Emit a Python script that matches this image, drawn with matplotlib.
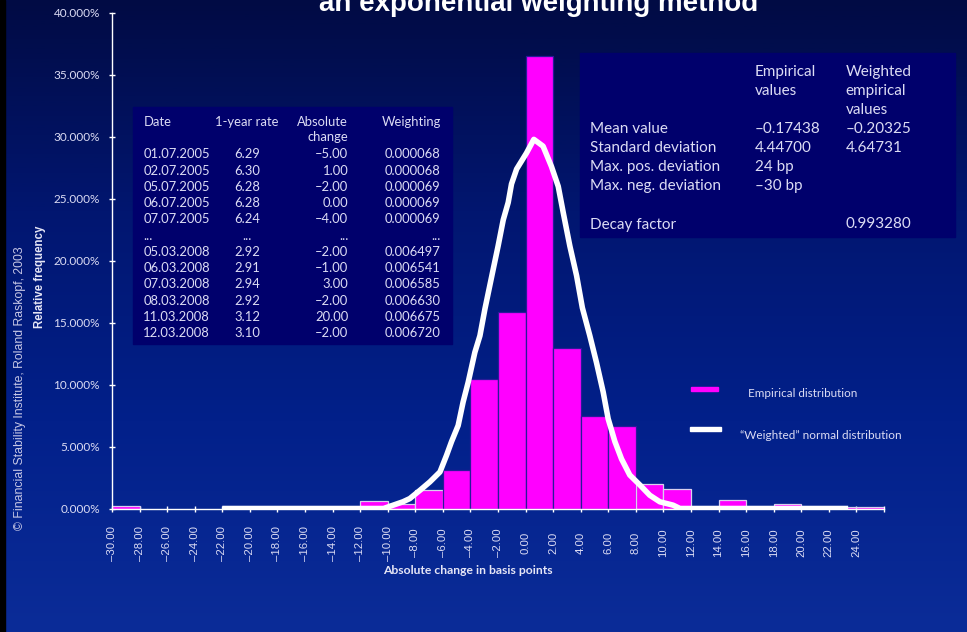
import numpy as np
import matplotlib
matplotlib.use("Agg")
import matplotlib.pyplot as plt
from matplotlib.patches import Rectangle
from matplotlib.colors import LinearSegmentedColormap
from matplotlib.ticker import PercentFormatter

# ---- data -------------------------------------------------------------
bin_left = [-30, -28, -26, -24, -22, -20, -18, -16, -14, -12, -10, -8, -6, -4,
            -2, 0, 2, 4, 6, 8, 10, 12, 14, 16, 18, 20, 22, 24]
rel_freq = [0.18, 0, 0, 0, 0, 0, 0, 0, 0, 0.59, 0.35, 1.47, 3.14, 10.47,
            15.90, 36.50, 12.95, 7.50, 6.65, 2.00, 1.57, 0, 0.70, 0, 0.35, 0, 0.15, 0.15]

curve_x = [-22.0, -10.3, -9.6, -8.9, -8.4, -7.66, -6.94, -6.21, -5.73, -5.37, -4.89,
           -4.53, -4.16, -3.68, -3.31, -2.95, -2.35, -1.99, -1.62, -1.26, -1.02,
           -0.65, 0.07, 0.60, 1.27, 1.88, 2.37, 2.73, 3.21, 3.70, 4.12, 4.66, 5.14,
           5.63, 5.99, 6.48, 6.96, 7.56, 8.29, 9.01, 9.74, 10.7, 11.2, 23.4]
curve_y = [0.0, 0.0, 0.27, 0.54, 0.80, 1.47, 2.15, 2.95, 4.30, 5.40, 6.70,
           8.60, 10.2, 12.6, 13.95, 16.1, 19.3, 21.2, 23.3, 24.7, 26.2,
           27.4, 28.7, 29.8, 29.25, 27.6, 26.0, 23.9, 21.2, 18.8, 16.2, 13.95, 11.8,
           9.4, 7.25, 5.4, 4.0, 2.7, 1.9, 1.07, 0.54, 0.27, 0.0, 0.0]

x_ticks = list(range(-30, 27, 2))
y_ticks = [0, 5, 10, 15, 20, 25, 30, 35, 40]

tbl_header = ["Date", "1-year rate", "Absolute\nchange", "Weighting"]
tbl_dates = ["01.07.2005", "02.07.2005", "05.07.2005", "06.07.2005", "07.07.2005", "...",
             "05.03.2008", "06.03.2008", "07.03.2008", "08.03.2008", "11.03.2008", "12.03.2008"]
tbl_rates = ["6.29", "6.30", "6.28", "6.28", "6.24", "...",
             "2.92", "2.91", "2.94", "2.92", "3.12", "3.10"]
tbl_changes = ["–5.00", "1.00", "–2.00", "0.00", "–4.00", "...",
               "–2.00", "–1.00", "3.00", "–2.00", "20.00", "–2.00"]
tbl_weights = ["0.000068", "0.000068", "0.000069", "0.000069", "0.000069", "...",
               "0.006497", "0.006541", "0.006585", "0.006630", "0.006675", "0.006720"]

stat_labels = ["Mean value", "Standard deviation", "Max. pos. deviation",
               "Max. neg. deviation", "Decay factor"]
stat_empirical = ["–0.17438", "4.44700", "24 bp", "–30 bp", ""]
stat_weighted = ["–0.20325", "4.64731", "", "", "0.993280"]

# ---- figure -----------------------------------------------------------
W, H = 967, 632
fig = plt.figure(figsize=(W / 100, H / 100), dpi=100)


def fx(px):
    return px / W


def fy(py):
    return 1 - py / H


# vertical gradient background
bg = fig.add_axes([0, 0, 1, 1], zorder=-10)
bg_cmap = LinearSegmentedColormap.from_list(
    "slide", ["#010b44", "#011670", "#02208a", "#0b2c98"])
bg.imshow(np.linspace(0, 1, 256)[:, None], cmap=bg_cmap, aspect="auto",
          extent=[0, 1, 0, 1], origin="upper")
bg.axis("off")
fig.add_artist(Rectangle((0, 0), fx(5), 1, transform=fig.transFigure,
                         color="black", zorder=-5))

LAV = "#dcdcf4"

# ---- main chart -------------------------------------------------------
ax = fig.add_axes([fx(112), fy(508.5), fx(884) - fx(112), (508.5 - 13) / H])
ax.patch.set_visible(False)

bl = np.array(bin_left, dtype=float)
rf = np.array(rel_freq, dtype=float)
keep = rf > 0
edges = ["#d8d0ee" if h < 2.5 else "#2a1a9a" for h in rf[keep]]
ax.bar(bl[keep], rf[keep], width=2, align="edge", color="#ff00ff",
       edgecolor=edges, linewidth=0.9, zorder=2)
ax.plot(curve_x, curve_y, color="white", lw=4.0, solid_joinstyle="round",
        solid_capstyle="butt", zorder=4)

ax.set_xlim(-30, 26)
ax.set_ylim(0, 40)
for s in ("top", "right"):
    ax.spines[s].set_visible(False)
for s in ("left", "bottom"):
    ax.spines[s].set_color("white")
    ax.spines[s].set_linewidth(1.0)

ax.set_xticks(x_ticks)
ax.set_xticklabels([f"{v:.2f}".replace("-", "–") if v <= 24 else "" for v in x_ticks],
                   rotation=90, va="center", ha="center",
                   fontsize=8.2, family="Liberation Sans", color=LAV)
ax.set_yticks(y_ticks)
ax.yaxis.set_major_formatter(PercentFormatter(xmax=100, decimals=3))
for lab in ax.get_yticklabels():
    lab.set_family("Lato")
    lab.set_fontsize(8.5)
    lab.set_color(LAV)
ax.tick_params(axis="x", direction="inout", length=4.5, width=1, colors="white",
               labelcolor=LAV, pad=22.6)
ax.tick_params(axis="y", direction="inout", length=4.5, width=1, colors="white",
               labelcolor=LAV, pad=6.4)

# axis titles and credit line
fig.text(fx(467.5), fy(570), "Absolute change in basis points", ha="center",
         va="center", fontsize=8.7, fontweight="bold", family="Lato", color="#e6e6f6")
fig.text(fx(40), fy(277), "Relative frequency", rotation=90, ha="center",
         va="center", fontsize=8.3, fontweight="bold", family="Liberation Sans",
         color="#e6e6f6")
fig.text(fx(20), fy(388), "© Financial Stability Institute, Roland Raskopf, 2003",
         rotation=90, ha="center", va="center", fontsize=8.8,
         family="Liberation Sans", color="#c8c8e6")

# title (second line of the slide heading)
fig.text(fx(539), fy(11), "an exponential weighting method", ha="center",
         va="baseline", fontsize=20, fontweight="bold", family="Liberation Sans",
         color="white")

# legend
fig.add_artist(Rectangle((fx(690.7), fy(391.3)), fx(718) - fx(690.7), 4 / H,
                         transform=fig.transFigure, color="#ff00ff"))
fig.add_artist(Rectangle((fx(690), fy(430.7)), fx(720.7) - fx(690), 4 / H,
                         transform=fig.transFigure, color="white"))
fig.text(fx(748), fy(393.5), "Empirical distribution", ha="left", va="center",
         fontsize=8.4, family="Lato", color=LAV)
fig.text(fx(740), fy(435.5), "\u201cWeighted\u201d normal distribution", ha="left",
         va="center", fontsize=8.5, family="Lato", color=LAV)

# ---- data table -------------------------------------------------------
BOX = "#00006c"
fig.add_artist(Rectangle((fx(133), fy(344)), fx(452) - fx(133), (344 - 107) / H,
                         transform=fig.transFigure, color=BOX))
TFS = 9.4
col_x = [143.3, 247, 348.3, 440.7]
col_ha = ["left", "center", "right", "right"]
fig.text(fx(col_x[0]), fy(126), tbl_header[0], ha="left", va="baseline",
         fontsize=TFS, family="Lato", color=LAV)
fig.text(fx(col_x[1]), fy(126), tbl_header[1], ha="center", va="baseline",
         fontsize=TFS, family="Lato", color=LAV)
h1, h2 = tbl_header[2].split("\n")
fig.text(fx(col_x[2]), fy(126), h1, ha="right", va="baseline",
         fontsize=TFS, family="Lato", color=LAV)
fig.text(fx(col_x[2]), fy(141), h2, ha="right", va="baseline",
         fontsize=TFS, family="Lato", color=LAV)
fig.text(fx(col_x[3]), fy(126), tbl_header[3], ha="right", va="baseline",
         fontsize=TFS, family="Lato", color=LAV)
for i, row in enumerate(zip(tbl_dates, tbl_rates, tbl_changes, tbl_weights)):
    yb = 158.3 + i * 16.27
    for j, cell in enumerate(row):
        fig.text(fx(col_x[j]), fy(yb), cell, ha=col_ha[j], va="baseline",
                 fontsize=TFS, family="Lato", color=LAV)

# ---- statistics box ---------------------------------------------------
fig.add_artist(Rectangle((fx(580), fy(236.7)), fx(955) - fx(580), (236.7 - 53.3) / H,
                         transform=fig.transFigure, color=BOX))
SFS = 11
for k, line in enumerate(["Empirical", "values"]):
    fig.text(fx(755), fy(76 + 19 * k), line, ha="left", va="baseline",
             fontsize=SFS, family="Lato", color=LAV)
for k, line in enumerate(["Weighted", "empirical", "values"]):
    fig.text(fx(845.7), fy(76 + 19 * k), line, ha="left", va="baseline",
             fontsize=SFS, family="Lato", color=LAV)
stat_base = [133, 152, 171, 190, 228.5]
for yb, lab, e, w in zip(stat_base, stat_labels, stat_empirical, stat_weighted):
    fig.text(fx(590), fy(yb), lab, ha="left", va="baseline", fontsize=SFS,
             family="Lato", color=LAV)
    if e:
        fig.text(fx(755), fy(yb), e, ha="left", va="baseline", fontsize=SFS,
                 family="Lato", color=LAV)
    if w:
        fig.text(fx(845.7), fy(yb), w, ha="left", va="baseline", fontsize=SFS,
                 family="Lato", color=LAV)

fig.savefig("out.png", dpi=100)
